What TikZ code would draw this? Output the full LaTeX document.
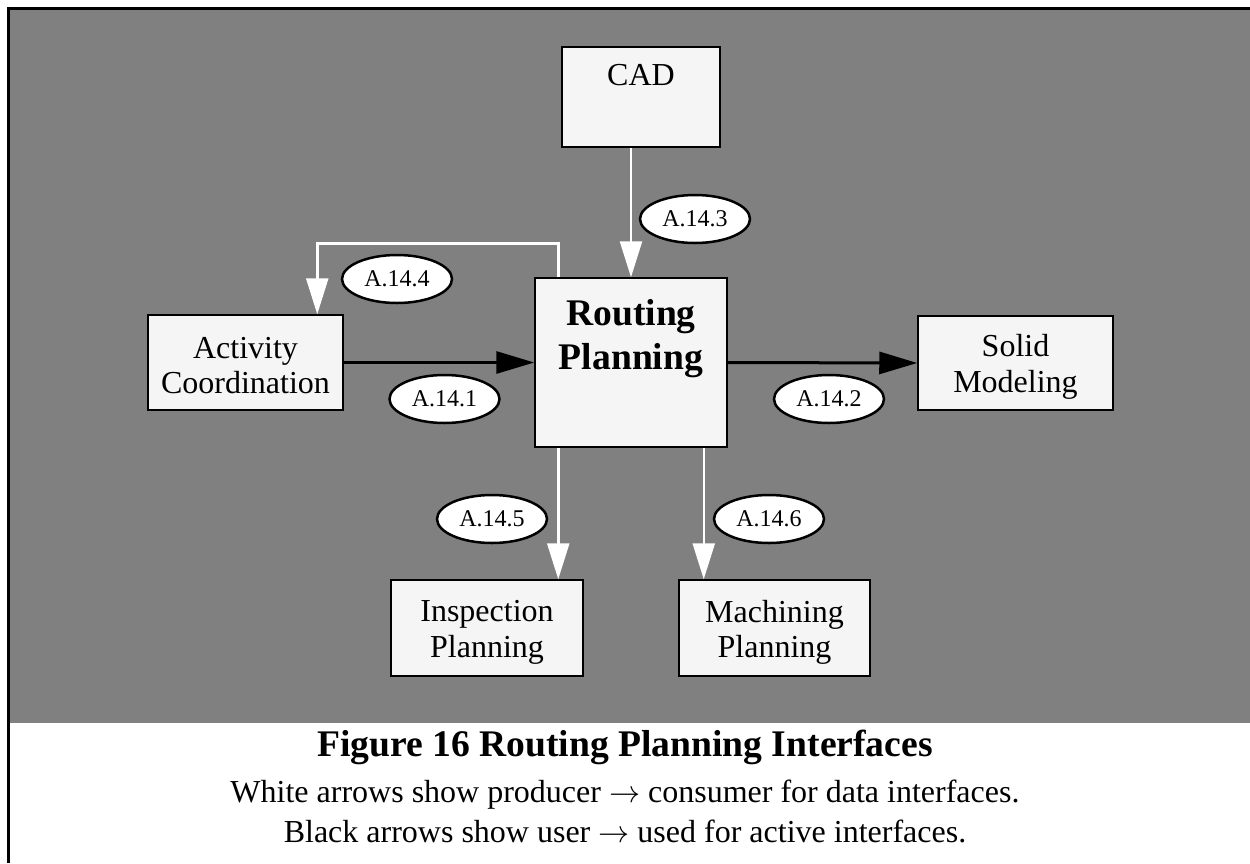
\documentclass[tikz,border=0pt]{standalone}
\usepackage{graphicx}
\usepackage{fontspec}
\setmainfont{Liberation Serif}
\usetikzlibrary{arrows.meta,shapes.geometric,calc}
\definecolor{bggray}{RGB}{128,128,128}
\definecolor{boxfill}{RGB}{245,245,245}
\newcommand{\boxtxt}[4]{\parbox[c][#1][c]{#2}{\centering\vspace{#3}#4}}
\newcommand{\bigarr}{\scalebox{1.25}{$\rightarrow$}}
\begin{document}
\begin{tikzpicture}[x=1pt,y=-1pt,
  boxnode/.style={draw=black,fill=boxfill,line width=1.5pt,inner sep=0pt,align=center,
    font=\fontsize{32}{35.5}\selectfont},
  lbl/.style={ellipse,draw=black,fill=white,line width=2.5pt,minimum width=110pt,minimum height=48pt,
    inner sep=0pt,font=\fontsize{24}{26}\selectfont},
  whitearrow/.style={draw=white,line width=2.5pt,-{Triangle[length=36pt,width=22pt,fill=white]}},
  blackarrow/.style={draw=black,line width=3pt,-{Triangle[length=38pt,width=22pt,fill=black]}}]
\useasboundingbox (0,0) rectangle (1250,863);
\fill[white] (0,0) rectangle (1250,863);
\fill[bggray] (10,10) rectangle (1250,723);
\draw[line width=3pt,black] (8.5,863) -- (8.5,8.5) -- (1250,8.5);

\node[boxnode,minimum width=158pt,minimum height=100pt] (C) at (641,97)
  {\parbox[c][100pt][t]{158pt}{\centering\vspace{17pt}CAD}};
\node[boxnode,minimum width=195pt,minimum height=95pt] (A) at (245.5,362.5) {\boxtxt{95pt}{195pt}{6pt}{Activity\\Coordination}};
\node[boxnode,minimum width=192pt,minimum height=169pt] (R) at (631,362.5)
  {\parbox[c][169pt][t]{192pt}{\centering\fontsize{37.6}{44}\selectfont\bfseries\vspace{21pt}Routing\\Planning}};
\node[boxnode,minimum width=195pt,minimum height=94pt] (S) at (1015.5,363) {\boxtxt{94pt}{195pt}{8pt}{Solid\\Modeling}};
\node[boxnode,minimum width=192pt,minimum height=96pt] (I) at (487,628) {\boxtxt{96pt}{192pt}{9pt}{Inspection\\Planning}};
\node[boxnode,minimum width=191pt,minimum height=96pt] (M) at (774.5,628) {\boxtxt{96pt}{191pt}{9pt}{Machining\\Planning}};

\draw[whitearrow] (C.south -| R.north) -- (R.north);
\draw[whitearrow] ($(R.north west)+(24,0)$) -- ++(0,-34) -| ($(A.north west)+(170,0)$);
\draw[blackarrow] (A.east) -- (R.west);
\draw[blackarrow] (R.east) -- (S.west);
\coordinate (r5) at ($(R.south west)+(24,0)$);
\coordinate (r6) at ($(R.south east)+(-24,0)$);
\draw[whitearrow] (r5) -- (r5 |- I.north);
\draw[whitearrow] (r6) -- (r6 |- M.north);

\node[lbl] (L3) at (695,219) {A.14.3};
\node[lbl] (L4) at (397,279) {A.14.4};
\node[lbl] (L1) at (444.5,399) {A.14.1};
\node[lbl] (L2) at (829,399) {A.14.2};
\node[lbl] (L5) at (492,519) {A.14.5};
\node[lbl] (L6) at (769,519) {A.14.6};

\node[font=\fontsize{37.6}{40}\selectfont\bfseries] (cap) at (625,747) {Figure 16 Routing Planning Interfaces};
\node[font=\fontsize{32}{35}\selectfont] (n1) at (625,795) {White arrows show producer \bigarr{} consumer for data interfaces.};
\node[font=\fontsize{32}{35}\selectfont] (n2) at (625,831) {Black arrows show user \bigarr{} used for active interfaces.};
\end{tikzpicture}
\end{document}
